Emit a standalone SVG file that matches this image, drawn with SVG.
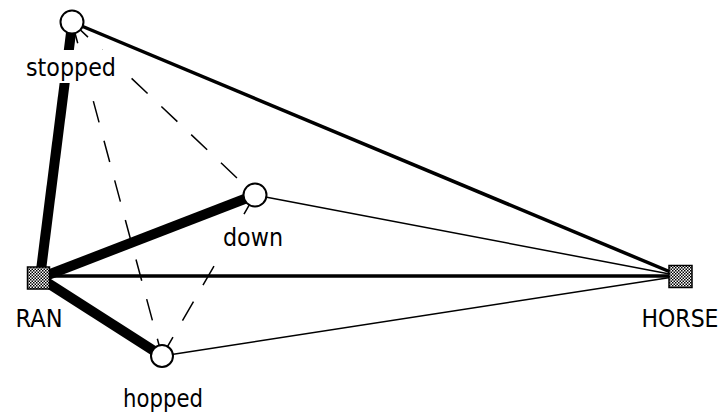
<svg xmlns="http://www.w3.org/2000/svg" width="725" height="419" viewBox="0 0 725 419">
<style>
.thick{stroke:#000;stroke-width:10;fill:none}
.med{stroke:#000;stroke-width:3.5;fill:none}
.thin{stroke:#000;stroke-width:1.5;fill:none}
.dash{stroke:#000;stroke-width:1.5;fill:none;stroke-dasharray:22 19}
.lbl{font-family:"DejaVu Sans",sans-serif;font-size:24px;fill:#000;text-anchor:middle}
.bg{fill:#fff}
.circ{fill:#fff;stroke:#000;stroke-width:2}
.sq{fill:url(#dither);stroke:#000;stroke-width:1.5}
</style>
<defs>
<pattern id="dither" width="3" height="3" patternUnits="userSpaceOnUse">
<rect width="3" height="3" fill="#fff"/>
<rect x="0" y="0" width="1.5" height="1.5" fill="#000"/>
<rect x="1.5" y="1.5" width="1.5" height="1.5" fill="#000"/>
</pattern>
</defs>
<rect width="725" height="419" fill="#fff"/>
<g id="connectors">
<line class="dash" x1="72" y1="22" x2="255" y2="195"/>
<line class="dash" x1="72" y1="22" x2="162" y2="356"/>
<line class="dash" x1="255" y1="195" x2="162" y2="356"/>
<line class="med" x1="72" y1="22" x2="680" y2="276"/>
<line class="thin" x1="255" y1="195" x2="680" y2="276"/>
<line class="thin" x1="162" y1="356" x2="680" y2="276"/>
<line class="med" x1="40" y1="276" x2="680" y2="276"/>
<line class="thick" x1="72" y1="25" x2="40" y2="278"/>
<line class="thick" x1="255" y1="195" x2="40" y2="278"/>
<line class="thick" x1="162" y1="356" x2="40" y2="278"/>
</g>
<g id="stopped">
<rect class="bg" x="23" y="50" width="96" height="33"/>
<circle class="circ" cx="72" cy="22" r="11.5"/>
<text class="lbl" x="71" y="76" textLength="90" lengthAdjust="spacingAndGlyphs">stopped</text>
</g>
<g id="down">
<rect class="bg" x="220" y="228" width="66" height="22"/>
<circle class="circ" cx="255" cy="195" r="11.5"/>
<text class="lbl" x="253" y="246" textLength="60" lengthAdjust="spacingAndGlyphs">down</text>
</g>
<g id="hopped">
<circle class="circ" cx="162" cy="356" r="11"/>
<text class="lbl" x="163" y="407" textLength="80" lengthAdjust="spacingAndGlyphs">hopped</text>
</g>
<g id="RAN">
<rect class="sq" x="27.5" y="267" width="22" height="22"/>
<text class="lbl" x="39" y="327" textLength="47" lengthAdjust="spacingAndGlyphs">RAN</text>
</g>
<g id="HORSE">
<rect class="sq" x="669" y="265.5" width="23" height="22"/>
<text class="lbl" x="680" y="327" textLength="77" lengthAdjust="spacingAndGlyphs">HORSE</text>
</g>
</svg>
